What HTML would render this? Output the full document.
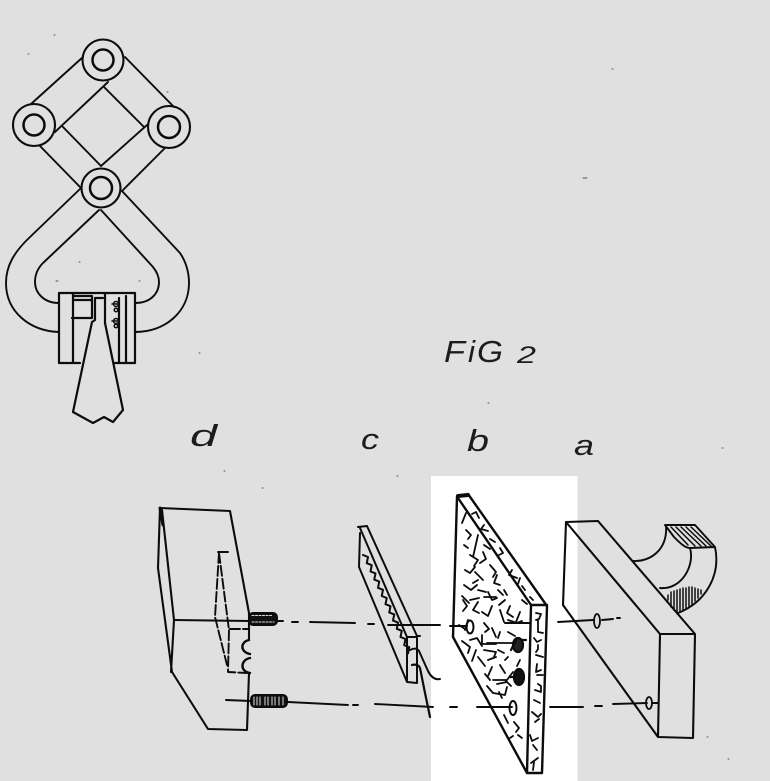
<!DOCTYPE html>
<html><head><meta charset="utf-8"><style>
html,body{margin:0;padding:0;background:#e0e0e0}
svg{display:block}
text{font-family:"Liberation Sans",sans-serif;font-style:italic;fill:#1c1c1c}
.ink{filter:blur(0.35px)}
</style></head><body>
<svg width="770" height="781" viewBox="0 0 770 781" xmlns="http://www.w3.org/2000/svg">
<rect width="770" height="781" fill="#e0e0e0"/>
<rect x="431" y="476" width="146.500" height="305" fill="#fff"/>

<g class="ink" fill="none" stroke="#0c0c0c" stroke-width="1.900" stroke-linecap="round" stroke-linejoin="round">
<!-- top mechanism -->
<g stroke-width="2.100">
<circle cx="103" cy="60" r="20.500"/><circle cx="103" cy="60" r="10.500" stroke-width="2.500"/>
<circle cx="34" cy="125" r="21"/><circle cx="34" cy="125" r="10.500" stroke-width="2.500"/>
<circle cx="169" cy="127" r="21"/><circle cx="169" cy="127" r="11" stroke-width="2.500"/>
<circle cx="101" cy="188" r="19.500"/><circle cx="101" cy="188" r="11" stroke-width="2.500"/>
</g>
<path d="M83,57L31,104M125,57L174,107M108,82L55,132M104,87L144,127M63,127L101,166M147,125L101,166M40,146L80,187M165,148L122,191"/>
<!-- jaws -->
<path d="M80,189L30,237C14,252 6,266 6,283C6,312 30,331 59,332"/>
<path d="M99,210L43,263C37,269 35,275 35,282C35,293 44,303 59,303"/>
<path d="M101,210L153,267C157,272 159,277 159,282C159,294 150,303 135,303"/>
<path d="M122,191L180,253C186,262 189,272 189,283C189,312 165,332 135,332"/>
<!-- clamp -->
<path stroke-width="2.200" d="M59,293H135V363H114M59,293V363H80M73,293V363M119,298V363M126,296V363M105,294V323M74,296H92V318H72M74,300H92"/>
<path stroke-width="2.200" d="M95,298V320L92,322L73,412L93,423L104,417L113,422L123,410L105,323M95,298H103"/>
<g stroke-width="1.500"><circle cx="116" cy="304" r="2.500"/><circle cx="116" cy="310" r="1.800"/><circle cx="116" cy="321" r="2.500"/><circle cx="116" cy="326" r="1.800"/><path d="M112,304H119M112,321H119"/></g>

<!-- d block -->
<path stroke-width="2.100" d="M160,508L230,511L249,613M249,613V640M249,673L247,730L208,729L172,672L158,568L160,508M162,510L174,620L171,672"/>
<path stroke-width="3" d="M160,508L163,525"/>
<path d="M174,620L250,621"/>
<path stroke-width="2.400" d="M249,640C240,642 240,652 250,654M250,658C240,660 240,672 250,673"/>
<path stroke-dasharray="10 3" d="M218,552H230M219,553L215,617L227,665M219,553L229,630L228,672L247,673M230,629H249"/>
<path d="M226,700L251,701"/>
<!-- screws -->
<rect x="249" y="613" width="28" height="12" rx="4" fill="#111"/>
<rect x="251" y="695" width="36" height="12" rx="4" fill="#111"/>
<g stroke="#e0e0e0" stroke-width="1"><path stroke-dasharray="2 1.500" d="M252,615.500H272M252,622H274"/><path d="M254,697V705M257,697V705M260,697V705M265,697V705M268,697V705M272,697V705M275,697V705M279,697V705M283,697V705"/></g>
<!-- axis dashes -->
<path d="M278,621L283,621M292,622L298,622M310,622L355,623M368,624L374,624M388,625L440,625M450,626L467,626M505,623L530,623M558,622L593,620M602,620L613,619M617,618L620,618"/>
<path d="M288,702L348,705M353,705L358,705M375,704L433,707M450,707L457,707M477,707L512,707M550,707L583,707M595,706L602,706M613,704L647,703M652,703L658,703"/>

<!-- c strip -->
<path stroke-width="2" d="M358,527L367,526L417,636H420M360,533L359,567L407,682L417,683V637H407L407,682M360,528L407,637"/>
<path stroke-width="2" d="M363,555l5,2l-1.250,6.200l5,2l-1.250,6.200l5,2l-1.250,6.200l5,2l-1.250,6.200l5,2l-1.250,6.200l5,2l-1.250,6.200l5,2l-1.250,6.200l5,2l-1.250,6.200l5,2l-1.250,6.200l5,2l-1.250,6.200l5,2l-1.250,6.200l5,2l-1.250,6.200"/>
<path stroke-width="2" d="M410,650C414,648 417,648 419,651L428,671C431,677 435,680 440,679"/>
<path d="M412,665C415,664 419,665 420,668L425,693L430,717" stroke-width="2.200"/>

<!-- b panel -->
<path stroke-width="2.400" d="M457,497L468,494L547,606L542,773H527L453,637L457,497M458,498L531,605L527,773M531,605H547"/>
<path stroke-width="4" d="M458,496L468,495"/>
<g stroke-width="2"><ellipse cx="470" cy="627" rx="3.500" ry="6.500"/><ellipse cx="513" cy="708" rx="3.500" ry="7"/></g>
<g stroke-width="2.200">
<ellipse cx="518" cy="645" rx="5" ry="7" fill="#222"/><path d="M511,650L516,640M522,640H526"/>
<ellipse cx="519" cy="677" rx="5" ry="8" fill="#111"/><path d="M510,677H515"/>
</g>
<!-- b texture -->
<g stroke-width="1.800">
<path d="M462,523l4,-10M466,530l5,5l-3,4M478,535l-5,22M470,555l8,5l-4,6M483,552l3,7l-6,4M465,570l5,3l5,-6M475,572l8,8M490,565l6,7l-3,5M497,575l-3,8l6,2M484,545l6,4M464,545l4,3M473,583l5,-3M504,590l3,5"/>
<path d="M464,585l7,5l6,-5M478,590l8,2M462,596l7,7M470,600l9,-2M488,592l4,8l5,-2M498,590l5,5M505,600l-6,5"/>
<path d="M478,602l-5,8l6,3M484,597h12M492,606l-4,10l-6,-4M500,610l4,12M510,606l-3,7l6,4M520,612l-4,10M522,600l5,4"/>
<path d="M463,600l4,6l-4,5M468,620l-3,10M459,625l6,4M484,623l5,6l-4,3M492,628l4,9M508,620l9,3l5,-2M500,632l-2,6M508,632l7,4"/>
<path d="M482,635v9h14M487,643h26M470,640l7,-2l5,8M462,641l8,6l-2,6M476,650l-4,11M484,650l12,2l-2,5M498,650l6,3"/>
<path d="M478,657l7,9M488,660l8,-3M492,667l-4,9M500,665l5,8M505,660l3,-3M520,660l-3,6"/>
<path d="M490,680l-5,-6M493,680h14l6,-8M487,686l6,7l12,2l2,-8M497,684l10,-2M505,680l6,6M502,698l-3,-6"/>
<path d="M504,715l4,8M514,722l5,6l-3,4M518,735l4,3M510,738l3,-2"/>
<!-- upper edge -->
<path d="M472,514l4,-2l3,6M484,525l-3,4l7,2M495,542l-5,-3M500,548l3,5l-4,2M512,570l-3,5l8,3M520,578l-2,6M525,590l-3,-4M533,600l-3,-3"/>
<!-- front edge -->
<path d="M536,613l5,1l-2,5l-3,1M538,620v12l5,1M534,638l3,4l4,-2M538,645v4l-2,3M536,655l7,2M537,664l-1,8l5,-2M537,675h6M538,684l3,2v5M535,690l6,2M534,700l6,3M532,712l6,5l3,-3M535,722l4,-3M530,735l2,6l6,-3M533,745l4,5M538,758l-7,5M533,770l1,-8"/>
</g>

<!-- a block -->
<path stroke-width="2.100" d="M566,522L598,521L695,634L693,738L658,737L563,605L566,522M566,522L660,634H695M660,634L658,737"/>
<g stroke-width="1.800"><ellipse cx="597" cy="621" rx="3" ry="7"/><ellipse cx="649" cy="703" rx="3" ry="6"/></g>
<path d="M633,561C650,562 668,550 666,525H695L715,547C721,575 706,602 678,613M660,588C682,590 695,565 690,548L715,547M665,525L674,537C680,543 685,548 690,548"/>
<g stroke-width="1.500">
<path d="M671,527L688,545M676,527L695,546M681,527L701,546M686,527L706,546M691,527L711,546"/>
<path d="M668,595V600M671,592V607M674,591V610M677,590V612M680,589V611M683,588V610M686,588V608M689,587V607M692,587V605M695,588V601M698,589V598M701,590V594"/>
</g>
<!-- specks -->
<g stroke-width="1" stroke="#555"><path d="M54,35h1M28,54h1M612,69h1M583,178h4M167,92h1M56,281h2M139,281h1M199,353h1M79,262h1M224,471h1M262,488h1M397,476h1M722,448h1M707,737h1M488,403h1M728,759h1"/></g>
</g>

<!-- labels -->
<text x="444" y="362" font-size="31" textLength="21" lengthAdjust="spacingAndGlyphs">F</text>
<text x="468" y="362" font-size="31" textLength="7" lengthAdjust="spacingAndGlyphs">i</text>
<text x="477" y="362" font-size="31" textLength="26" lengthAdjust="spacingAndGlyphs">G</text>
<text x="517" y="363" font-size="24" textLength="19" lengthAdjust="spacingAndGlyphs">2</text>
<text x="190" y="446" font-size="31" textLength="27" lengthAdjust="spacingAndGlyphs">d</text>
<text x="361" y="449" font-size="29" textLength="18" lengthAdjust="spacingAndGlyphs">c</text>
<text x="467" y="451" font-size="31" textLength="22" lengthAdjust="spacingAndGlyphs">b</text>
<text x="574" y="455" font-size="29" textLength="20" lengthAdjust="spacingAndGlyphs">a</text>
</svg>
</body></html>
